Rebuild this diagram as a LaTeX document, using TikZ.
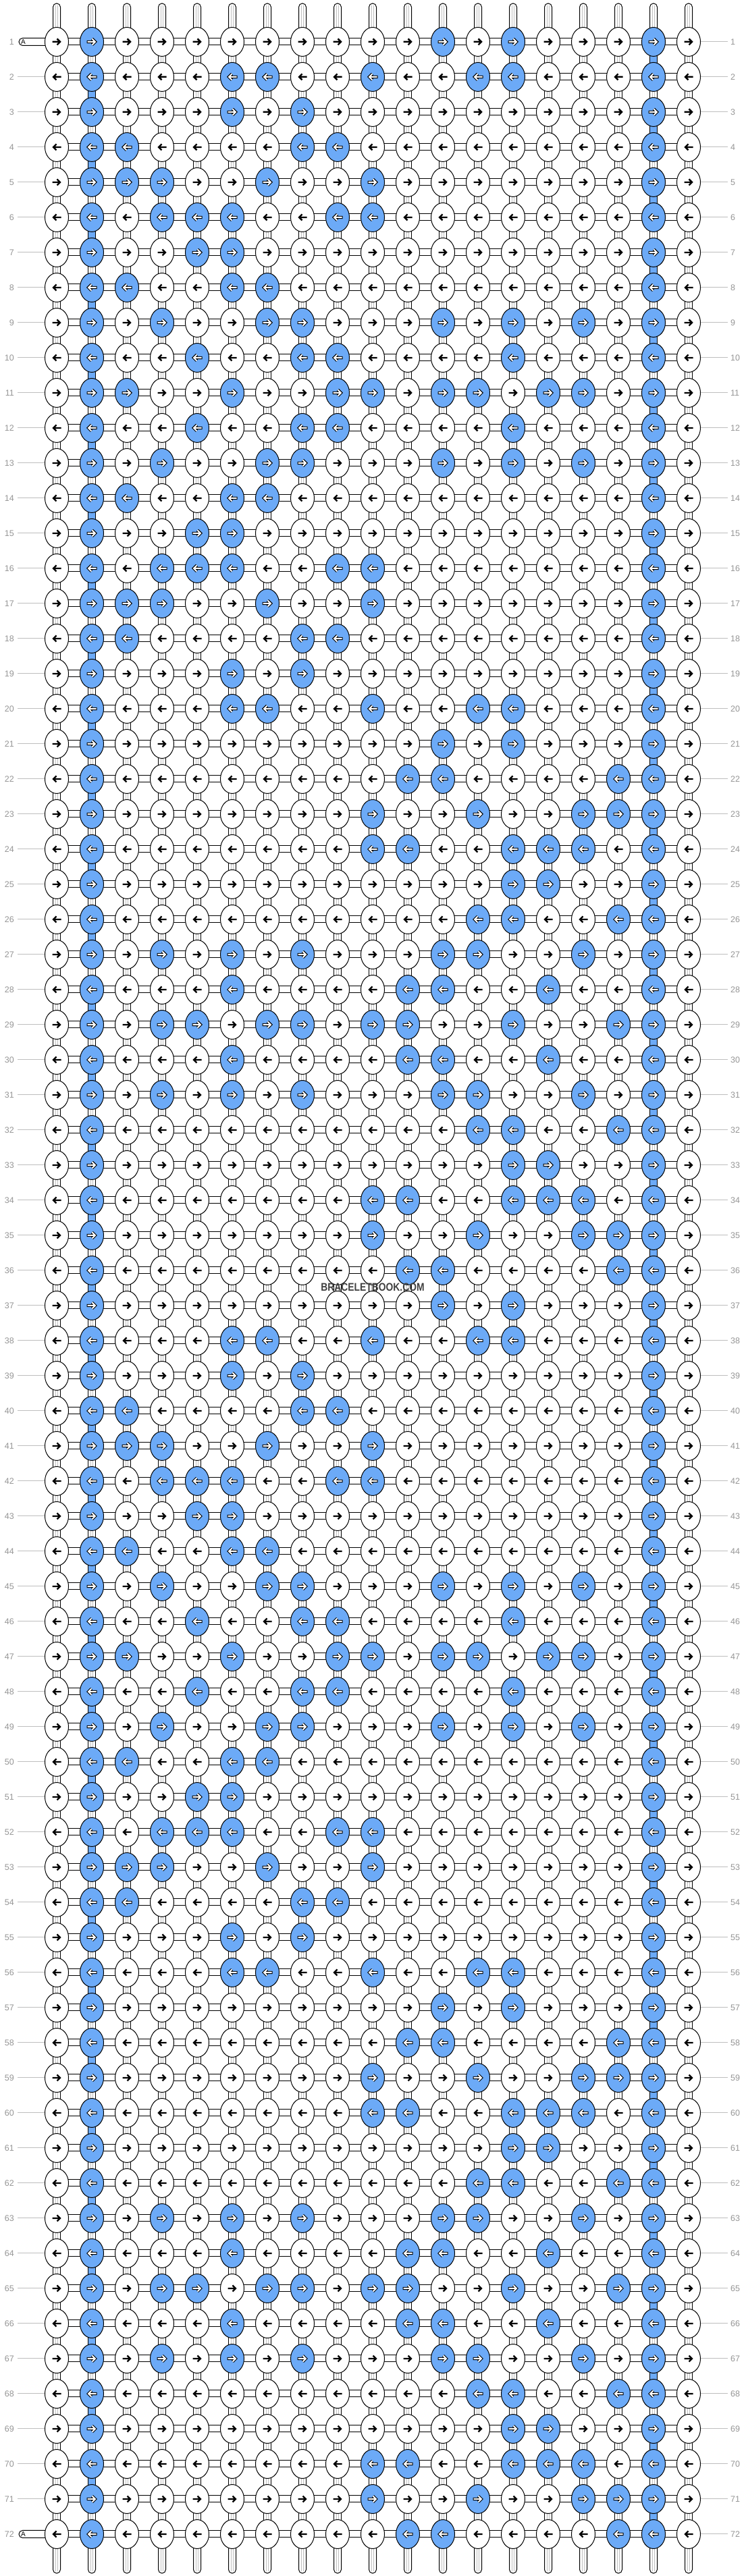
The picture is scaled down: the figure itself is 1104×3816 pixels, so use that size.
\documentclass[tikz,border=0pt]{standalone}
\usepackage{fontspec}
\setmainfont{Liberation Sans}
\usetikzlibrary{shapes.geometric}
\definecolor{knotblue}{RGB}{108,170,247}
\definecolor{numgray}{RGB}{150,150,150}
\definecolor{linegray}{RGB}{190,190,190}
\pgfdeclarelayer{background}
\pgfsetlayers{background,main}
\newif\ifblueknot
\makeatletter
\newcommand\checkblue[2]{\edef\kb@tmp{\noexpand\in@{.#1.}{#2}}\kb@tmp
  \ifin@\blueknottrue\def\kfill{knotblue}\else\blueknotfalse\def\kfill{white}\fi}
\makeatother
\newcommand\knotarrow[4]{\draw[#3] ([shift={(#4*#2,0)}]#1.center) -- ([shift={(5*#2,0)}]#1.center)
  ([shift={(0.5*#2,4.5)}]#1.center) -- ([shift={(5*#2,0)}]#1.center) -- ([shift={(0.5*#2,-4.5)}]#1.center);}
\tikzset{
  knot/.style={ellipse,draw=black,line width=1pt,minimum width=35pt,minimum height=43pt,inner sep=0pt},
  bar/.style={draw=black,line width=1pt,fill=white},
  strand/.style={draw=linegray,line width=0.9pt},
  tickline/.style={draw=linegray,line width=1pt},
  rownum/.style={text=numgray,font=\fontsize{12.5}{14}\selectfont,inner sep=0pt},
  darrow/.style={line width=2.4pt,line cap=butt,line join=miter,black},
  warrowedge/.style={line width=4.2pt,line cap=butt,line join=miter,black},
  warrow/.style={line width=2pt,line cap=butt,line join=miter,white},
}
\begin{document}
\begin{tikzpicture}[x=1pt,y=1pt]
\useasboundingbox (0,0) rectangle (1104,3816);
\begin{pgfonlayer}{background}
\fill[white] (0,0) rectangle (1104,3816);
\end{pgfonlayer}
\foreach \rep in {0,36} {
\foreach \r/\blues in {1/.2.12.14.18., 2/.2.6.7.10.13.14.18., 3/.2.6.8.18., 4/.2.3.8.9.18.,
  5/.2.3.4.7.10.18., 6/.2.4.5.6.9.10.18., 7/.2.5.6.18., 8/.2.3.6.7.18.,
  9/.2.4.7.8.12.14.16.18., 10/.2.5.8.9.14.18., 11/.2.3.6.9.10.12.13.15.16.18., 12/.2.5.8.9.14.18.,
  13/.2.4.7.8.12.14.16.18., 14/.2.3.6.7.18., 15/.2.5.6.18., 16/.2.4.5.6.9.10.18.,
  17/.2.3.4.7.10.18., 18/.2.3.8.9.18., 19/.2.6.8.18., 20/.2.6.7.10.13.14.18.,
  21/.2.12.14.18., 22/.2.11.12.17.18., 23/.2.10.13.16.17.18., 24/.2.10.11.14.15.16.18.,
  25/.2.14.15.18., 26/.2.13.14.17.18., 27/.2.4.6.8.12.13.16.18., 28/.2.6.11.12.15.18.,
  29/.2.4.5.7.8.10.11.14.17.18., 30/.2.6.11.12.15.18., 31/.2.4.6.8.12.13.16.18., 32/.2.13.14.17.18.,
  33/.2.14.15.18., 34/.2.10.11.14.15.16.18., 35/.2.10.13.16.17.18., 36/.2.11.12.17.18.} {
  \pgfmathtruncatemacro{\row}{\r+\rep}
  \pgfmathsetmacro{\dir}{2*mod(\row,2)-1}
  \pgfmathsetmacro{\ky}{3754-52*(\row-1)}
  \foreach \c in {1,...,19} {
    \checkblue{\c}{\blues}
    \node[knot,fill=\kfill] (k-\row-\c) at ({84+52*(\c-1)},\ky) {};
    \ifblueknot
      \knotarrow{k-\row-\c}{\dir}{warrowedge}{-7.5}
      \knotarrow{k-\row-\c}{\dir}{warrow}{-6.5}
    \else
      \knotarrow{k-\row-\c}{\dir}{darrow}{-6.5}
    \fi
  }
  \node[rownum,anchor=east] (ln-\row) at (21,\ky) {\row};
  \node[rownum,anchor=west] (rn-\row) at (1082,\ky) {\row};
  \draw[tickline] (k-\row-19.east) -- ([xshift=-4pt]rn-\row.west);
  \ifnum\row>1 \ifnum\row<72
    \draw[tickline] ([xshift=5pt]ln-\row.east) -- (k-\row-1.west);
  \fi\fi
}}
\begin{pgfonlayer}{background}
\foreach \r in {1,...,71} {
  \pgfmathtruncatemacro{\rn}{\r+1}
  \foreach \c in {1,...,19} {
    \pgfmathtruncatemacro{\isblue}{(\c==2 && mod(\r,2)==0) || (\c==18 && mod(\r,2)==1)}
    \ifnum\isblue=1
      \draw[bar,fill=knotblue] ([xshift=-5.5pt]k-\r-\c.center) rectangle ([xshift=5.5pt]k-\rn-\c.center);
    \else
      \draw[bar] ([xshift=-5.5pt]k-\r-\c.center) rectangle ([xshift=5.5pt]k-\rn-\c.center);
      \draw[strand] ([xshift=-1.8pt]k-\r-\c.center) -- ([xshift=-1.8pt]k-\rn-\c.center)
                    ([xshift=1.8pt]k-\r-\c.center) -- ([xshift=1.8pt]k-\rn-\c.center);
    \fi
  }
}
\foreach \r in {1,...,72} {
  \foreach \c [count=\cn from 2] in {1,...,18} {
    \draw[bar] ([yshift=-5pt]k-\r-\c.center) rectangle ([yshift=5pt]k-\r-\cn.center);
  }
}
\foreach \c in {1,...,19} {
  \draw[bar] ([xshift=-5.5pt]k-1-\c.center) -- ++(0,51.5) arc(180:0:5.5) -- ([xshift=5.5pt]k-1-\c.center) -- cycle;
  \draw[strand] ([xshift=-1.8pt]k-1-\c.center) -- ++(0,54) ([xshift=1.8pt]k-1-\c.center) -- ++(0,54);
  \draw[bar] ([xshift=-5.5pt]k-72-\c.center) -- ++(0,-52.5) arc(180:360:5.5) -- ([xshift=5.5pt]k-72-\c.center) -- cycle;
  \draw[strand] ([xshift=-1.8pt]k-72-\c.center) -- ++(0,-55) ([xshift=1.8pt]k-72-\c.center) -- ++(0,-55);
}
\foreach \r in {1,72} {
  \draw[bar] ([yshift=5.5pt]k-\r-1.center) -- ++(-50.5,0) arc(90:270:5.5) -- ([yshift=-5.5pt]k-\r-1.center) -- cycle;
  \node[font=\fontsize{10}{10}\selectfont,inner sep=0pt] (a-\r) at ([xshift=-49.5pt]k-\r-1.center) {A};
}
\end{pgfonlayer}
\node[font=\bfseries\fontsize{16.5}{18}\selectfont,text=black!75,inner sep=0pt] (logo) at (552,1909) {\scalebox{0.84}[1]{BRACELETBOOK.COM}};
\end{tikzpicture}
\end{document}
